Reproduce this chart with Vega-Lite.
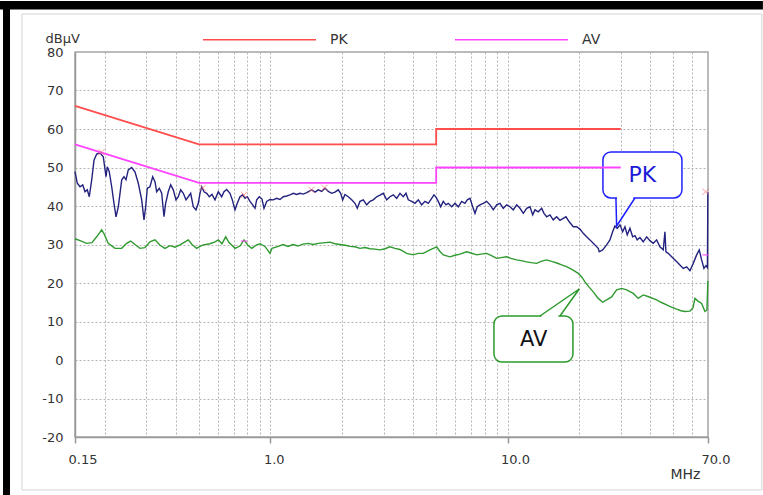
{
  "$schema": "https://vega.github.io/schema/vega-lite/v6.json",
  "width": 633,
  "height": 385,
  "autosize": {"type": "none"},
  "padding": {"left": 75, "top": 52, "right": 55, "bottom": 58},
  "background": "white",
  "config": {
    "font": "DejaVu Sans",
    "view": {"stroke": "#a8a8a8", "strokeWidth": 1.5}
  },
  "datasets": {
    "limits": [
      {"f": 0.15, "dB": 66, "series": "PK", "i": 0},
      {"f": 0.5, "dB": 56, "series": "PK", "i": 1},
      {"f": 5, "dB": 56, "series": "PK", "i": 2},
      {"f": 5, "dB": 60, "series": "PK", "i": 3},
      {"f": 30, "dB": 60, "series": "PK", "i": 4},
      {"f": 0.15, "dB": 56, "series": "AV", "i": 0},
      {"f": 0.5, "dB": 46, "series": "AV", "i": 1},
      {"f": 5, "dB": 46, "series": "AV", "i": 2},
      {"f": 5, "dB": 50, "series": "AV", "i": 3},
      {"f": 30, "dB": 50, "series": "AV", "i": 4}
    ],
    "peak": [
      {"f":0.15,"dB":48.9},{"f":0.1534,"dB":45.9},{"f":0.1575,"dB":45.0},{"f":0.1617,"dB":45.5},{"f":0.1653,"dB":43.7},{"f":0.169,"dB":44.2},{"f":0.1723,"dB":42.4},{"f":0.1764,"dB":46.8},{"f":0.1804,"dB":51.9},{"f":0.1851,"dB":53.5},{"f":0.1912,"dB":53.8},{"f":0.1974,"dB":52.8},{"f":0.2027,"dB":47.6},{"f":0.2052,"dB":50.2},{"f":0.2092,"dB":48.9},{"f":0.2142,"dB":45.0},{"f":0.219,"dB":40.7},{"f":0.2234,"dB":37.2},{"f":0.2284,"dB":39.8},{"f":0.2361,"dB":46.8},{"f":0.2414,"dB":47.6},{"f":0.2461,"dB":46.8},{"f":0.2516,"dB":49.4},{"f":0.26,"dB":50.0},{"f":0.2685,"dB":48.9},{"f":0.2773,"dB":45.9},{"f":0.2866,"dB":41.6},{"f":0.2931,"dB":36.4},{"f":0.2979,"dB":39.8},{"f":0.3026,"dB":44.6},{"f":0.3106,"dB":45.0},{"f":0.3189,"dB":47.6},{"f":0.3261,"dB":46.3},{"f":0.3315,"dB":43.7},{"f":0.34,"dB":44.6},{"f":0.348,"dB":43.3},{"f":0.3559,"dB":37.2},{"f":0.3617,"dB":40.7},{"f":0.371,"dB":43.7},{"f":0.3798,"dB":45.5},{"f":0.3895,"dB":44.2},{"f":0.3999,"dB":41.6},{"f":0.4089,"dB":42.4},{"f":0.4185,"dB":44.2},{"f":0.4293,"dB":43.3},{"f":0.4407,"dB":41.6},{"f":0.4506,"dB":42.4},{"f":0.4612,"dB":43.3},{"f":0.473,"dB":39.8},{"f":0.4855,"dB":39.0},{"f":0.4965,"dB":40.7},{"f":0.5048,"dB":43.3},{"f":0.5132,"dB":45.0},{"f":0.5248,"dB":43.7},{"f":0.5387,"dB":43.3},{"f":0.5525,"dB":42.4},{"f":0.5671,"dB":43.0},{"f":0.5839,"dB":41.6},{"f":0.6029,"dB":43.7},{"f":0.6231,"dB":42.4},{"f":0.6372,"dB":43.7},{"f":0.6541,"dB":44.3},{"f":0.6754,"dB":43.3},{"f":0.6907,"dB":41.6},{"f":0.709,"dB":39.0},{"f":0.725,"dB":40.7},{"f":0.7443,"dB":42.4},{"f":0.7641,"dB":42.9},{"f":0.7813,"dB":42.0},{"f":0.799,"dB":42.4},{"f":0.8202,"dB":41.2},{"f":0.842,"dB":40.3},{"f":0.861,"dB":39.4},{"f":0.8753,"dB":41.6},{"f":0.8977,"dB":42.4},{"f":0.9215,"dB":41.8},{"f":0.9396,"dB":39.4},{"f":0.9644,"dB":41.2},{"f":0.9959,"dB":41.7},{"f":1.0284,"dB":41.6},{"f":1.0629,"dB":42.0},{"f":1.0975,"dB":41.7},{"f":1.1333,"dB":42.4},{"f":1.1712,"dB":42.6},{"f":1.2094,"dB":42.9},{"f":1.2488,"dB":43.3},{"f":1.2906,"dB":43.0},{"f":1.3327,"dB":43.3},{"f":1.3761,"dB":43.1},{"f":1.4221,"dB":43.5},{"f":1.4929,"dB":44.2},{"f":1.5414,"dB":43.6},{"f":1.5917,"dB":44.2},{"f":1.645,"dB":43.8},{"f":1.6986,"dB":44.6},{"f":1.754,"dB":43.8},{"f":1.8127,"dB":43.3},{"f":1.8717,"dB":43.6},{"f":1.9327,"dB":44.2},{"f":1.9783,"dB":43.3},{"f":2.0172,"dB":41.6},{"f":2.0626,"dB":43.0},{"f":2.1298,"dB":42.4},{"f":2.2011,"dB":41.6},{"f":2.2729,"dB":40.7},{"f":2.3243,"dB":39.4},{"f":2.386,"dB":41.2},{"f":2.4638,"dB":41.6},{"f":2.5463,"dB":40.3},{"f":2.6292,"dB":41.2},{"f":2.7149,"dB":41.6},{"f":2.8058,"dB":42.4},{"f":2.8973,"dB":42.8},{"f":2.9918,"dB":43.3},{"f":3.0919,"dB":41.6},{"f":3.1927,"dB":42.4},{"f":3.2968,"dB":42.9},{"f":3.4071,"dB":42.0},{"f":3.5182,"dB":43.3},{"f":3.6329,"dB":42.4},{"f":3.7292,"dB":43.3},{"f":3.8136,"dB":41.6},{"f":3.9413,"dB":41.2},{"f":4.0698,"dB":40.7},{"f":4.2025,"dB":41.6},{"f":4.3431,"dB":40.3},{"f":4.4847,"dB":41.2},{"f":4.6309,"dB":40.7},{"f":4.7859,"dB":42.0},{"f":4.8942,"dB":42.9},{"f":4.9901,"dB":42.3},{"f":5.103,"dB":41.2},{"f":5.2231,"dB":39.8},{"f":5.3569,"dB":41.2},{"f":5.4989,"dB":40.3},{"f":5.6233,"dB":40.7},{"f":5.8116,"dB":39.8},{"f":6.001,"dB":40.7},{"f":6.1966,"dB":39.8},{"f":6.4042,"dB":41.2},{"f":6.6129,"dB":40.7},{"f":6.7624,"dB":41.6},{"f":6.9418,"dB":42.0},{"f":7.1265,"dB":39.8},{"f":7.2871,"dB":38.1},{"f":7.4518,"dB":39.8},{"f":7.6495,"dB":40.3},{"f":7.8989,"dB":40.7},{"f":8.1633,"dB":41.2},{"f":8.4294,"dB":40.3},{"f":8.7042,"dB":39.0},{"f":8.9956,"dB":40.3},{"f":9.2889,"dB":40.7},{"f":9.5917,"dB":39.4},{"f":9.9128,"dB":40.3},{"f":10.236,"dB":39.8},{"f":10.57,"dB":39.0},{"f":10.923,"dB":40.3},{"f":11.28,"dB":39.4},{"f":11.648,"dB":38.1},{"f":12.038,"dB":39.4},{"f":12.43,"dB":39.8},{"f":12.761,"dB":37.7},{"f":13.048,"dB":39.0},{"f":13.473,"dB":38.5},{"f":13.924,"dB":39.4},{"f":14.239,"dB":38.1},{"f":14.617,"dB":37.2},{"f":15.088,"dB":37.7},{"f":15.58,"dB":36.4},{"f":16.101,"dB":37.2},{"f":16.626,"dB":36.3},{"f":17.168,"dB":36.8},{"f":17.623,"dB":37.2},{"f":18.197,"dB":35.9},{"f":18.918,"dB":34.6},{"f":19.551,"dB":34.6},{"f":20.189,"dB":34.0},{"f":20.847,"dB":32.9},{"f":21.544,"dB":32.0},{"f":22.247,"dB":31.2},{"f":22.972,"dB":30.3},{"f":23.353,"dB":29.9},{"f":24.114,"dB":29.0},{"f":24.348,"dB":28.1},{"f":25.167,"dB":28.6},{"f":26.161,"dB":29.9},{"f":27.015,"dB":31.2},{"f":27.734,"dB":33.3},{"f":28.359,"dB":34.8},{"f":29.0,"dB":34.2},{"f":29.769,"dB":35.1},{"f":30.561,"dB":33.3},{"f":31.251,"dB":34.6},{"f":31.957,"dB":32.5},{"f":32.805,"dB":34.2},{"f":33.678,"dB":32.0},{"f":34.437,"dB":32.3},{"f":35.215,"dB":31.2},{"f":36.15,"dB":31.8},{"f":37.329,"dB":30.7},{"f":38.578,"dB":32.0},{"f":39.836,"dB":31.0},{"f":41.135,"dB":30.3},{"f":42.511,"dB":31.2},{"f":43.898,"dB":29.4},{"f":45.329,"dB":28.6},{"f":46.082,"dB":33.3},{"f":46.531,"dB":28.1},{"f":47.584,"dB":27.7},{"f":49.951,"dB":26.4},{"f":52.436,"dB":25.1},{"f":55.045,"dB":23.8},{"f":56.888,"dB":24.2},{"f":58.743,"dB":23.2},{"f":60.658,"dB":25.1},{"f":62.689,"dB":27.3},{"f":64.292,"dB":28.6},{"f":65.808,"dB":26.0},{"f":67.296,"dB":23.8},{"f":68.616,"dB":24.5},{"f":69.6,"dB":24.0},{"f":69.9,"dB":43.5},{"f":70,"dB":43.0}
    ],
    "avg": [
      {"f":0.15,"dB":31.5},{"f":0.1575,"dB":31.0},{"f":0.168,"dB":30.3},{"f":0.1769,"dB":30.5},{"f":0.1851,"dB":32.0},{"f":0.1944,"dB":33.8},{"f":0.1988,"dB":32.8},{"f":0.2072,"dB":30.3},{"f":0.2212,"dB":29.0},{"f":0.2361,"dB":29.0},{"f":0.2477,"dB":30.3},{"f":0.2575,"dB":30.9},{"f":0.2685,"dB":30.0},{"f":0.2819,"dB":29.0},{"f":0.2959,"dB":29.2},{"f":0.3106,"dB":30.7},{"f":0.3261,"dB":31.2},{"f":0.3423,"dB":29.8},{"f":0.3593,"dB":29.0},{"f":0.3772,"dB":29.7},{"f":0.396,"dB":29.3},{"f":0.4157,"dB":29.9},{"f":0.4364,"dB":30.7},{"f":0.4506,"dB":31.2},{"f":0.4671,"dB":30.0},{"f":0.4888,"dB":29.0},{"f":0.5048,"dB":29.5},{"f":0.5213,"dB":29.9},{"f":0.5562,"dB":30.2},{"f":0.5839,"dB":30.7},{"f":0.6029,"dB":31.2},{"f":0.6249,"dB":30.2},{"f":0.6478,"dB":32.0},{"f":0.6689,"dB":30.5},{"f":0.6886,"dB":29.8},{"f":0.709,"dB":29.0},{"f":0.7443,"dB":29.6},{"f":0.7738,"dB":31.2},{"f":0.8043,"dB":29.8},{"f":0.8338,"dB":29.0},{"f":0.8753,"dB":29.9},{"f":0.9038,"dB":30.2},{"f":0.9487,"dB":29.5},{"f":0.9959,"dB":27.7},{"f":1.0154,"dB":29.0},{"f":1.0796,"dB":29.5},{"f":1.1299,"dB":30.0},{"f":1.1861,"dB":29.5},{"f":1.2451,"dB":30.0},{"f":1.3069,"dB":29.6},{"f":1.372,"dB":30.1},{"f":1.4445,"dB":30.3},{"f":1.5118,"dB":30.0},{"f":1.5917,"dB":30.3},{"f":1.6986,"dB":30.5},{"f":1.7831,"dB":30.6},{"f":1.8717,"dB":30.2},{"f":1.9649,"dB":30.0},{"f":2.0626,"dB":29.8},{"f":2.1652,"dB":29.5},{"f":2.2729,"dB":29.4},{"f":2.386,"dB":29.0},{"f":2.5047,"dB":29.2},{"f":2.6292,"dB":28.9},{"f":2.76,"dB":28.8},{"f":2.8973,"dB":28.6},{"f":3.0414,"dB":28.9},{"f":3.1927,"dB":29.4},{"f":3.3515,"dB":29.0},{"f":3.5182,"dB":28.7},{"f":3.7545,"dB":27.7},{"f":4.0033,"dB":27.3},{"f":4.1899,"dB":27.7},{"f":4.4115,"dB":27.7},{"f":4.7078,"dB":28.6},{"f":5.0239,"dB":29.4},{"f":5.1878,"dB":28.2},{"f":5.3569,"dB":27.3},{"f":5.7167,"dB":26.8},{"f":6.001,"dB":27.2},{"f":6.2996,"dB":27.5},{"f":6.7227,"dB":28.1},{"f":7.0095,"dB":27.8},{"f":7.4081,"dB":27.3},{"f":7.7241,"dB":27.5},{"f":8.1633,"dB":27.7},{"f":8.5116,"dB":27.2},{"f":8.9956,"dB":26.4},{"f":9.3795,"dB":26.6},{"f":9.9128,"dB":26.8},{"f":10.336,"dB":26.4},{"f":10.923,"dB":26.0},{"f":11.39,"dB":25.8},{"f":12.038,"dB":25.5},{"f":12.551,"dB":25.3},{"f":13.265,"dB":25.1},{"f":13.831,"dB":25.6},{"f":14.617,"dB":26.0},{"f":15.58,"dB":25.5},{"f":16.148,"dB":25.2},{"f":16.902,"dB":24.7},{"f":17.623,"dB":24.3},{"f":18.321,"dB":23.8},{"f":19.047,"dB":23.2},{"f":19.859,"dB":22.5},{"f":20.585,"dB":21.5},{"f":21.192,"dB":20.3},{"f":22.031,"dB":19.0},{"f":22.972,"dB":17.7},{"f":24.114,"dB":16.0},{"f":25.167,"dB":15.0},{"f":26.161,"dB":15.6},{"f":27.463,"dB":16.4},{"f":28.83,"dB":18.2},{"f":30.263,"dB":18.6},{"f":31.77,"dB":18.2},{"f":33.874,"dB":17.3},{"f":35.56,"dB":16.0},{"f":37.329,"dB":16.9},{"f":39.067,"dB":16.5},{"f":42.511,"dB":15.6},{"f":44.326,"dB":15.0},{"f":46.847,"dB":14.3},{"f":48.846,"dB":13.8},{"f":51.624,"dB":13.2},{"f":53.827,"dB":12.8},{"f":55.959,"dB":12.6},{"f":58.743,"dB":12.7},{"f":60.476,"dB":13.5},{"f":61.665,"dB":16.0},{"f":63.484,"dB":15.3},{"f":65.808,"dB":14.7},{"f":67.953,"dB":12.6},{"f":69.285,"dB":13.0},{"f":69.9,"dB":20.5}
    ],
    "markers": [
      {"f": 0.194, "dB": 54.0, "kind": "PK"},
      {"f": 0.518, "dB": 44.7, "kind": "PK"},
      {"f": 0.774, "dB": 42.9, "kind": "PK"},
      {"f": 1.49, "dB": 44.2, "kind": "PK"},
      {"f": 1.69, "dB": 44.7, "kind": "PK"},
      {"f": 68.4, "dB": 43.7, "kind": "PK"},
      {"f": 0.774, "dB": 30.9, "kind": "AV"},
      {"f": 68.3, "dB": 27.3, "kind": "AV"}
    ],
    "pkPointer": [
      {"f": 28.635, "dB": 42.08, "i": 0},
      {"f": 28.83, "dB": 34.8, "i": 1},
      {"f": 34.437, "dB": 42.08, "i": 2}
    ],
    "avPointer": [
      {"f": 13.697, "dB": 11.43, "i": 0},
      {"f": 20.051, "dB": 18.44, "i": 1},
      {"f": 16.626, "dB": 11.43, "i": 2}
    ]
  },
  "layer": [
    {
      "data": {"name": "peak"},
      "mark": {"type": "line", "color": "#23237f", "strokeWidth": 1.4},
      "encoding": {
        "x": {
          "field": "f", "type": "quantitative",
          "scale": {"type": "log", "domain": [0.15, 70], "nice": false},
          "axis": {
            "values": [0.15, 0.2, 0.3, 0.4, 0.5, 0.6, 0.7, 0.8, 0.9, 1, 2, 3, 4, 5, 6, 7, 8, 9, 10, 20, 30, 40, 50, 60, 70],
            "tickCount": 60,
            "labelExpr": "datum.value == 0.15 ? '0.15' : datum.value == 1 ? '1.0' : datum.value == 10 ? '10.0' : datum.value == 70 ? '70.0' : ''",
            "labelAlign": "left", "labelOffset": -7, "labelBaseline": "alphabetic", "labelPadding": 20,
            "labelFontSize": 13, "labelColor": "#333", "labelOverlap": false, "labelFlush": false, "labelBound": false,
            "tickSize": 6, "tickColor": "#999", "tickWidth": 1.5,
            "tickOpacity": {"condition": {"test": "datum.value == 0.15 || datum.value == 1 || datum.value == 10 || datum.value == 70", "value": 1}, "value": 0},
            "domainColor": "#999", "domainWidth": 1.5,
            "grid": true, "gridColor": "#b4b4b4", "gridDash": [2, 2], "gridWidth": 1,
            "title": "MHz", "titleX": 595, "titleY": 41, "titleAlign": "left", "titleBaseline": "alphabetic",
            "titleFontSize": 14, "titleFontWeight": "normal", "titleColor": "#333"
          }
        },
        "y": {
          "field": "dB", "type": "quantitative",
          "scale": {"domain": [-20, 80], "nice": false},
          "axis": {
            "values": [-20, -10, 0, 10, 20, 30, 40, 50, 60, 70, 80],
            "tickCount": 30,
            "labelExpr": "'' + datum.value",
            "tickSize": 0, "labelPadding": 12, "labelOverlap": false, "labelBound": false, "labelFlush": false,
            "labelFontSize": 13, "labelColor": "#333",
            "domainColor": "#999", "domainWidth": 1.5,
            "grid": true, "gridColor": "#b4b4b4", "gridDash": [2, 2], "gridWidth": 1,
            "title": "dBµV", "titleAngle": 0, "titleX": -30, "titleY": -10, "titleAlign": "left", "titleBaseline": "alphabetic",
            "titleFontSize": 13, "titleFontWeight": "normal", "titleColor": "#333"
          }
        }
      }
    },
    {
      "data": {"values": [{}]},
      "mark": {"type": "rect", "fill": "none", "stroke": "#d4d4d4", "strokeWidth": 1, "clip": false},
      "encoding": {
        "x": {"datum": 0.08966, "type": "quantitative"},
        "x2": {"datum": 118.1},
        "y": {"datum": 89.87, "type": "quantitative"},
        "y2": {"datum": -33.77}
      }
    },
    {
      "data": {"values": [{}]},
      "mark": {"type": "rect", "fill": "black", "clip": false},
      "encoding": {
        "x": {"datum": 0.07243, "type": "quantitative"},
        "x2": {"datum": 119.3},
        "y": {"datum": 93.25, "type": "quantitative"},
        "y2": {"datum": 91.04}
      }
    },
    {
      "data": {"values": [{}]},
      "mark": {"type": "rect", "fill": "black", "clip": false},
      "encoding": {
        "x": {"datum": 0.07457, "type": "quantitative"},
        "x2": {"datum": 0.07981},
        "y": {"datum": 93.25, "type": "quantitative"},
        "y2": {"datum": -35.06}
      }
    },
    {
      "data": {"name": "avg"},
      "mark": {"type": "line", "color": "#2f9a2f", "strokeWidth": 1.4},
      "encoding": {
        "x": {"field": "f", "type": "quantitative"},
        "y": {"field": "dB", "type": "quantitative"}
      }
    },
    {
      "data": {"values": [{}]},
      "mark": {"type": "rect", "cornerRadius": 8, "fill": "white", "stroke": "#2020ff", "strokeWidth": 1.5},
      "encoding": {
        "x": {"datum": 25.238, "type": "quantitative"},
        "x2": {"datum": 54.352},
        "y": {"datum": 54.03, "type": "quantitative"},
        "y2": {"datum": 42.08}
      }
    },
    {
      "data": {"values": [{}]},
      "mark": {"type": "rect", "cornerRadius": 8, "fill": "white", "stroke": "#2a9a2a", "strokeWidth": 1.5},
      "encoding": {
        "x": {"datum": 8.763, "type": "quantitative"},
        "x2": {"datum": 18.862},
        "y": {"datum": 11.43, "type": "quantitative"},
        "y2": {"datum": -0.52}
      }
    },
    {
      "data": {"values": [{}]},
      "mark": {"type": "rule", "stroke": "white", "strokeWidth": 3},
      "encoding": {
        "x": {"datum": 28.95, "type": "quantitative"},
        "x2": {"datum": 33.9},
        "y": {"datum": 42.08, "type": "quantitative"}
      }
    },
    {
      "data": {"values": [{}]},
      "mark": {"type": "rule", "stroke": "white", "strokeWidth": 3},
      "encoding": {
        "x": {"datum": 13.898, "type": "quantitative"},
        "x2": {"datum": 16.386},
        "y": {"datum": 11.43, "type": "quantitative"}
      }
    },
    {
      "data": {"name": "pkPointer"},
      "mark": {"type": "line", "color": "#2020ff", "strokeWidth": 1.5},
      "encoding": {
        "x": {"field": "f", "type": "quantitative"},
        "y": {"field": "dB", "type": "quantitative"},
        "order": {"field": "i"}
      }
    },
    {
      "data": {"name": "avPointer"},
      "mark": {"type": "line", "color": "#2a9a2a", "strokeWidth": 1.5},
      "encoding": {
        "x": {"field": "f", "type": "quantitative"},
        "y": {"field": "dB", "type": "quantitative"},
        "order": {"field": "i"}
      }
    },
    {
      "data": {"values": [{"label": "PK"}]},
      "mark": {"type": "text", "fontSize": 22, "color": "#1c1cd8", "align": "center", "baseline": "middle"},
      "encoding": {
        "x": {"datum": 37.04, "type": "quantitative"},
        "y": {"datum": 48.13, "type": "quantitative"},
        "text": {"field": "label"}
      }
    },
    {
      "data": {"values": [{"label": "AV"}]},
      "mark": {"type": "text", "fontSize": 21, "color": "#111111", "align": "center", "baseline": "middle"},
      "encoding": {
        "x": {"datum": 12.897, "type": "quantitative"},
        "y": {"datum": 5.32, "type": "quantitative"},
        "text": {"field": "label"}
      }
    },
    {
      "data": {"name": "limits"},
      "mark": {"type": "line", "strokeWidth": 1.8},
      "encoding": {
        "x": {"field": "f", "type": "quantitative"},
        "y": {"field": "dB", "type": "quantitative"},
        "order": {"field": "i"},
        "color": {
          "field": "series", "type": "nominal",
          "scale": {"domain": ["PK", "AV"], "range": ["#ff4c4c", "#ff44ff"]},
          "legend": {
            "orient": "none", "legendX": 127, "legendY": -70, "direction": "horizontal", "title": null,
            "symbolType": "stroke", "symbolSize": 12769, "symbolStrokeWidth": 1.5,
            "labelFontSize": 14, "labelColor": "#333", "labelOffset": 13, "columnPadding": 104
          }
        }
      }
    },
    {
      "data": {"name": "markers"},
      "transform": [{"filter": "datum.kind == 'PK'"}],
      "mark": {"type": "point", "shape": "M-1,-1L1,1M-1,1L1,-1", "filled": false, "size": 40, "color": "#ff7070", "strokeWidth": 1},
      "encoding": {
        "x": {"field": "f", "type": "quantitative"},
        "y": {"field": "dB", "type": "quantitative"}
      }
    },
    {
      "data": {"name": "markers"},
      "transform": [{"filter": "datum.kind == 'AV'"}],
      "mark": {"type": "point", "shape": "M-1,0L1,0", "filled": false, "size": 40, "color": "#ff44ff", "strokeWidth": 1.5},
      "encoding": {
        "x": {"field": "f", "type": "quantitative"},
        "y": {"field": "dB", "type": "quantitative"}
      }
    }
  ]
}
